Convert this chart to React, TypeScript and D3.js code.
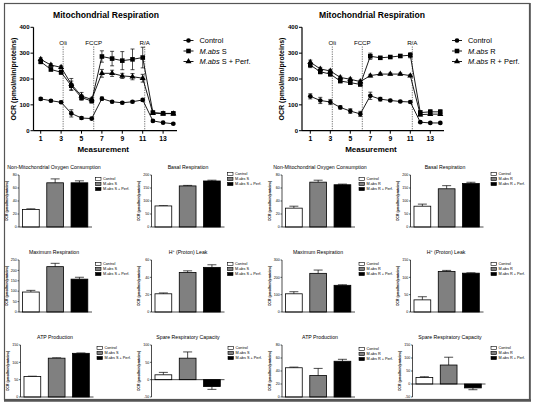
import React from 'react';
import * as d3 from 'd3';

// ---------- Data ----------
const measurements = [1, 2, 3, 4, 5, 6, 7, 8, 9, 10, 11, 12, 13, 14];
const xTickLabels = [1, 3, 5, 7, 9, 11, 13];
const yTicksLine = [0, 100, 200, 300, 400];
const injectionLabels = ['Oli', 'FCCP', 'R/A'];
const injectionAt = [3.2, 6.2, 11.2];

// Left chart (S)
const controlS = [123, 116, 110, 67, 49, 47, 124, 112, 108, 112, 119, 38, 31, 27];
const controlSErr = [5, 4, 5, 14, 5, 5, 6, 4, 4, 4, 5, 4, 3, 3];
const absS = [267, 237, 226, 174, 128, 115, 287, 279, 271, 276, 283, 70, 67, 67];
const absSErr = [8, 6, 8, 18, 10, 8, 22, 28, 35, 40, 40, 6, 5, 5];
const perfS = [276, 254, 245, 180, 134, 121, 222, 222, 212, 209, 203, 68, 66, 66];
const perfSErr = [6, 5, 6, 22, 14, 8, 15, 12, 10, 12, 15, 5, 4, 4];

// Right chart (R)
const controlR = [133, 117, 111, 90, 76, 65, 135, 122, 117, 113, 111, 33, 30, 30];
const controlRErr = [10, 12, 10, 6, 9, 10, 14, 7, 4, 4, 4, 3, 3, 3];
const absR = [254, 228, 219, 192, 186, 179, 288, 282, 285, 289, 292, 70, 73, 73];
const absRErr = [10, 8, 8, 6, 6, 6, 12, 5, 4, 6, 10, 8, 8, 8];
const perfR = [265, 239, 231, 206, 199, 190, 213, 219, 219, 219, 213, 62, 64, 64];
const perfRErr = [8, 6, 6, 5, 5, 5, 5, 4, 4, 4, 4, 5, 5, 5];

// Bar panels
const groups = ['Control', 'abs', 'perf'];

const nonMitoS = [27, 68, 68];
const nonMitoSErr = [1, 6, 3];
const basalS = [81, 158, 177];
const basalSErr = [1, 2, 3];
const maxS = [96, 218, 158];
const maxSErr = [8, 16, 9];
const leakS = [21, 45.5, 51.5];
const leakSErr = [1, 2, 3];
const atpS = [59, 112, 126];
const atpSErr = [1, 1, 1];
const spareS = [14, 62, -20];
const spareSErr = [7, 18, 8];

const nonMitoR = [29, 69, 65];
const nonMitoRErr = [3, 3, 1];
const basalR = [80, 147, 167];
const basalRErr = [8, 12, 5];
const maxR = [105, 223, 154];
const maxRErr = [12, 19, 3];
const leakR = [35, 117, 112];
const leakRErr = [9, 3, 1];
const atpR = [45, 33, 55];
const atpRErr = [1, 11, 3];
const spareR = [25, 73, -15];
const spareRErr = [3, 30, 7];

const ticks0to80 = [0, 20, 40, 60, 80];
const ticks0to200 = [0, 50, 100, 150, 200];
const ticks0to250 = [0, 50, 100, 150, 200, 250];
const ticks0to60 = [0, 20, 40, 60];
const ticks0to150 = [0, 50, 100, 150];
const ticksM50to100 = [-50, 0, 50, 100];
const ticks0to300 = [0, 100, 200, 300];
const ticksM50to150 = [-50, 0, 50, 100, 150];

const FONT = '"Liberation Sans", Arial, Helvetica, sans-serif';

// ---------- Components ----------
type Series = { values: number[]; errs: number[]; shape: 'circle' | 'square' | 'triangle' };

function Marker({ shape, x, y }: { shape: string; x: number; y: number }) {
  const type = shape === 'circle' ? d3.symbolCircle : shape === 'square' ? d3.symbolSquare : d3.symbolTriangle;
  const size = shape === 'circle' ? 17 : shape === 'square' ? 21 : 16;
  const path = d3.symbol().type(type).size(size)() as string;
  return <path d={path} transform={`translate(${x},${y})`} fill="#000" />;
}

function AbsName({ strain, extra }: { strain: string; extra?: string }) {
  return (
    <>
      <tspan fontStyle="italic">M.abs</tspan>
      <tspan>{` ${strain}${extra ?? ''}`}</tspan>
    </>
  );
}

function LineChart({ axisX, m1, step, xEnd, strain, series, titleX }: {
  axisX: number; m1: number; step: number; xEnd: number; strain: string; series: Series[]; titleX: number;
}) {
  const x = d3.scaleLinear().domain([1, 14]).range([m1, m1 + 13 * step]);
  const y = d3.scaleLinear().domain([0, 400]).range([130.7, 27.3]);
  const line = d3.line<number>().x((_, i) => x(measurements[i])).y((d) => y(d));
  const legendX = axisX + 150;
  const legendRows = [40.5, 51, 61.5];
  const legendLabels = ['Control', 'abs', 'perf'];
  return (
    <g fontFamily={FONT}>
      <text x={titleX} y={18} fontSize={8.6} fontWeight="bold" textAnchor="middle">Mitochondrial Respiration</text>
      {/* injection lines */}
      {injectionAt.map((a, i) => (
        <g key={i}>
          <line x1={x(a)} x2={x(a)} y1={46.5} y2={130.7} stroke="#333" strokeWidth={0.7} strokeDasharray="1.2,1.2" />
          <text x={x(a)} y={44.5} fontSize={6.2} textAnchor="middle">{injectionLabels[i]}</text>
        </g>
      ))}
      {/* series */}
      {series.map((s, si) => (
        <g key={si}>
          <path d={line(s.values) as string} fill="none" stroke="#000" strokeWidth={0.9} />
          {s.values.map((v, i) => {
            const cx = x(measurements[i]);
            const e = s.errs[i];
            return (
              <g key={i} stroke="#000" strokeWidth={0.7}>
                <line x1={cx} x2={cx} y1={y(v - e)} y2={y(v + e)} />
                <line x1={cx - 2} x2={cx + 2} y1={y(v + e)} y2={y(v + e)} />
                <line x1={cx - 2} x2={cx + 2} y1={y(v - e)} y2={y(v - e)} />
              </g>
            );
          })}
          {s.values.map((v, i) => (
            <Marker key={'m' + i} shape={s.shape} x={x(measurements[i])} y={y(v)} />
          ))}
        </g>
      ))}
      {/* axes */}
      <line x1={axisX} x2={axisX} y1={y(400)} y2={y(0)} stroke="#000" strokeWidth={1.2} />
      <line x1={axisX} x2={xEnd} y1={y(0)} y2={y(0)} stroke="#000" strokeWidth={1.2} />
      {yTicksLine.map((t) => (
        <g key={t}>
          <line x1={axisX - 3} x2={axisX} y1={y(t)} y2={y(t)} stroke="#000" strokeWidth={1} />
          <text x={axisX - 4} y={y(t) + 2} fontSize={6} fontWeight="bold" textAnchor="end">{t}</text>
        </g>
      ))}
      {xTickLabels.map((t) => (
        <g key={t}>
          <line x1={x(t)} x2={x(t)} y1={y(0)} y2={y(0) + 3} stroke="#000" strokeWidth={1} />
          <text x={x(t)} y={y(0) + 10} fontSize={6.8} fontWeight="bold" textAnchor="middle">{t}</text>
        </g>
      ))}
      <text x={(axisX + xEnd) / 2 - 2} y={152} fontSize={8} fontWeight="bold" textAnchor="middle">Measurement</text>
      <text transform={`translate(${axisX - 18},${y(200)}) rotate(-90)`} fontSize={7} fontWeight="bold" textAnchor="middle">OCR (pmol/min/proteins)</text>
      {/* legend */}
      {series.map((s, i) => (
        <g key={'l' + i}>
          <line x1={legendX} x2={legendX + 10} y1={legendRows[i]} y2={legendRows[i]} stroke="#000" strokeWidth={0.9} />
          <Marker shape={s.shape} x={legendX + 5} y={legendRows[i]} />
          <text x={legendX + 16} y={legendRows[i] + 2.6} fontSize={7.4}>
            {legendLabels[i] === 'Control' ? 'Control' : <AbsName strain={strain} extra={legendLabels[i] === 'perf' ? ' + Perf.' : ''} />}
          </text>
        </g>
      ))}
    </g>
  );
}

function BarPanel({ axisX, top, title, titleX, values, errs, domain, ticks, legendX, legendY, strain, superH }: {
  axisX: number; top: number; title: string; titleX: number; values: number[]; errs: number[];
  domain: [number, number]; ticks: number[]; legendX: number; legendY: number; strain: string; superH?: boolean;
}) {
  const y = d3.scaleLinear().domain(domain).range([top + 52, top]);
  const xb = d3.scaleBand().domain(groups).range([axisX, axisX + 72.3]).paddingInner(0.31).paddingOuter(0.144);
  const fills = ['#fff', '#808080', '#000'];
  const y0 = y(0);
  const legendLabels = ['Control', 'abs', 'perf'];
  return (
    <g fontFamily={FONT}>
      <text x={titleX} y={top - 6} fontSize={5.2} textAnchor="middle">
        {superH ? (<><tspan>H</tspan><tspan dy={-1.6} fontSize={3.6}>+</tspan><tspan dy={1.6}>{' ' + title}</tspan></>) : title}
      </text>
      {values.map((v, i) => {
        const bx = xb(groups[i]) as number;
        const bw = xb.bandwidth();
        const yv = y(v);
        const ye = y(v >= 0 ? v + errs[i] : v - errs[i]);
        const cx = bx + bw / 2;
        return (
          <g key={i}>
            <line x1={cx} x2={cx} y1={yv} y2={ye} stroke="#000" strokeWidth={0.7} />
            <line x1={cx - 4.5} x2={cx + 4.5} y1={ye} y2={ye} stroke="#000" strokeWidth={0.7} />
            <rect x={bx} y={Math.min(yv, y0)} width={bw} height={Math.abs(yv - y0)} fill={fills[i]} stroke="#000" strokeWidth={0.8} />
          </g>
        );
      })}
      <line x1={axisX} x2={axisX} y1={y(domain[1])} y2={y(domain[0])} stroke="#000" strokeWidth={0.7} />
      <line x1={axisX} x2={axisX + 73} y1={y0} y2={y0} stroke="#000" strokeWidth={0.7} />
      {ticks.map((t) => (
        <g key={t}>
          <line x1={axisX - 1.5} x2={axisX} y1={y(t)} y2={y(t)} stroke="#000" strokeWidth={0.6} />
          <text x={axisX - 2.2} y={y(t) + 1.2} fontSize={3.6} textAnchor="end">{t}</text>
        </g>
      ))}
      <text transform={`translate(${axisX - 11.5},${top + 26}) rotate(-90)`} fontSize={3.4} fontWeight="bold" textAnchor="middle">OCR (pmol/min/proteins)</text>
      {legendLabels.map((l, i) => (
        <g key={l}>
          <rect x={legendX} y={legendY + i * 5 - 1.6} width={5.5} height={3.2} fill={fills[i]} stroke="#000" strokeWidth={0.6} />
          <text x={legendX + 7.5} y={legendY + i * 5 + 1.3} fontSize={3.8}>
            {l === 'Control' ? 'Control' : `M.abs ${strain}${l === 'perf' ? ' + Perf.' : ''}`}
          </text>
        </g>
      ))}
    </g>
  );
}

export default function App() {
  const W = 538, H = 409;
  const seriesS: Series[] = [
    { values: controlS, errs: controlSErr, shape: 'circle' },
    { values: absS, errs: absSErr, shape: 'square' },
    { values: perfS, errs: perfSErr, shape: 'triangle' },
  ];
  const seriesR: Series[] = [
    { values: controlR, errs: controlRErr, shape: 'circle' },
    { values: absR, errs: absRErr, shape: 'square' },
    { values: perfR, errs: perfRErr, shape: 'triangle' },
  ];
  const rowTop = [175, 260, 345];
  const colA = 19, colB = 151.5, colC = 282, colD = 410.5;
  return (
    <svg width={W} height={H} viewBox={`0 0 ${W} ${H}`} style={{ position: 'absolute', left: 0, top: 0, background: '#fff' }}>
      <rect x={0} y={0} width={W} height={H} fill="#fff" />
      <rect x={4.5} y={3.5} width={525} height={396} fill="none" stroke="#555" strokeWidth={1.2} />
      <line x1={4} x2={531} y1={400.5} y2={400.5} stroke="#555" strokeWidth={2.4} />
      <line x1={530} x2={530} y1={3} y2={401} stroke="#555" strokeWidth={1.6} />

      <LineChart axisX={33.5} m1={40.7} step={10.2} xEnd={177} strain="S" series={seriesS} titleX={106} />
      <LineChart axisX={302} m1={310.3} step={10} xEnd={444} strain="R" series={seriesR} titleX={372} />

      {/* Left half (S) */}
      <BarPanel axisX={colA} top={rowTop[0]} title="Non-Mitochondrial Oxygen Consumption" titleX={54} values={nonMitoS} errs={nonMitoSErr} domain={[0, 80]} ticks={ticks0to80} legendX={95.5} legendY={rowTop[0] + 4} strain="S" />
      <BarPanel axisX={colB} top={rowTop[0]} title="Basal Respiration" titleX={188} values={basalS} errs={basalSErr} domain={[0, 200]} ticks={ticks0to200} legendX={227.5} legendY={rowTop[0] - 1} strain="S" />
      <BarPanel axisX={colA} top={rowTop[1]} title="Maximum Respiration" titleX={54} values={maxS} errs={maxSErr} domain={[0, 250]} ticks={ticks0to250} legendX={95.5} legendY={rowTop[1] + 4} strain="S" />
      <BarPanel axisX={colB} top={rowTop[1]} title="(Proton) Leak" superH titleX={188} values={leakS} errs={leakSErr} domain={[0, 60]} ticks={ticks0to60} legendX={227.5} legendY={rowTop[1] + 4} strain="S" />
      <BarPanel axisX={colA + 1.5} top={rowTop[2]} title="ATP Production" titleX={55} values={atpS} errs={atpSErr} domain={[0, 150]} ticks={ticks0to150} legendX={97} legendY={rowTop[2] + 3} strain="S" />
      <BarPanel axisX={colB} top={rowTop[2]} title="Spare Respiratory Capacity" titleX={188} values={spareS} errs={spareSErr} domain={[-50, 100]} ticks={ticksM50to100} legendX={228} legendY={rowTop[2] + 3} strain="S" />

      {/* Right half (R) */}
      <BarPanel axisX={colC} top={rowTop[0]} title="Non-Mitochondrial Oxygen Consumption" titleX={320} values={nonMitoR} errs={nonMitoRErr} domain={[0, 80]} ticks={ticks0to80} legendX={359} legendY={rowTop[0] + 4} strain="R" />
      <BarPanel axisX={colD} top={rowTop[0]} title="Basal Respiration" titleX={445} values={basalR} errs={basalRErr} domain={[0, 200]} ticks={ticks0to200} legendX={491} legendY={rowTop[0] - 1} strain="R" />
      <BarPanel axisX={colC} top={rowTop[1]} title="Maximum Respiration" titleX={318} values={maxR} errs={maxRErr} domain={[0, 300]} ticks={ticks0to300} legendX={359} legendY={rowTop[1] + 4} strain="R" />
      <BarPanel axisX={colD} top={rowTop[1]} title="(Proton) Leak" superH titleX={446} values={leakR} errs={leakRErr} domain={[0, 150]} ticks={ticks0to150} legendX={491} legendY={rowTop[1] + 4} strain="R" />
      <BarPanel axisX={colC} top={rowTop[2]} title="ATP Production" titleX={320} values={atpR} errs={atpRErr} domain={[0, 80]} ticks={ticks0to80} legendX={359} legendY={rowTop[2] + 4} strain="R" />
      <BarPanel axisX={colD + 2} top={rowTop[2]} title="Spare Respiratory Capacity" titleX={450} values={spareR} errs={spareRErr} domain={[-50, 150]} ticks={ticksM50to150} legendX={491} legendY={rowTop[2] + 3} strain="R" />
    </svg>
  );
}
